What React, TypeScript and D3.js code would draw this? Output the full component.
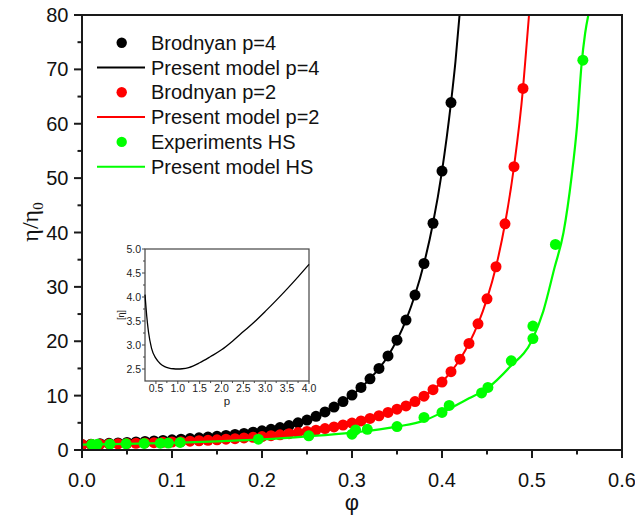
import React from "react";
import * as d3 from "d3";

// ---------- data ----------
const blackPhi = [0, 0.01, 0.02, 0.03, 0.04, 0.05, 0.06, 0.07, 0.08, 0.09, 0.1, 0.11, 0.12, 0.13, 0.14, 0.15, 0.16, 0.17, 0.18, 0.19, 0.2, 0.21, 0.22, 0.23, 0.24, 0.25, 0.26, 0.27, 0.28, 0.29, 0.3, 0.31, 0.32, 0.33, 0.34, 0.35, 0.36, 0.37, 0.38, 0.39, 0.4, 0.41];
const blackEta = [1.0, 1.07, 1.15, 1.23, 1.31, 1.39, 1.48, 1.57, 1.66, 1.76, 1.87, 1.98, 2.1, 2.23, 2.37, 2.52, 2.68, 2.86, 3.05, 3.27, 3.52, 3.8, 4.12, 4.5, 5.0, 5.5, 6.2, 7.0, 7.9, 8.9, 10.1, 11.5, 13.1, 15.0, 17.3, 20.2, 23.9, 28.5, 34.3, 41.7, 51.3, 63.9];

const redPhi = [0, 0.01, 0.02, 0.03, 0.04, 0.05, 0.06, 0.07, 0.08, 0.09, 0.1, 0.11, 0.12, 0.13, 0.14, 0.15, 0.16, 0.17, 0.18, 0.19, 0.2, 0.21, 0.22, 0.23, 0.24, 0.25, 0.26, 0.27, 0.28, 0.29, 0.3, 0.31, 0.32, 0.33, 0.34, 0.35, 0.36, 0.37, 0.38, 0.39, 0.4, 0.41, 0.42, 0.43, 0.44, 0.45, 0.46, 0.47, 0.48, 0.49];
const redEta = [1.0, 1.03, 1.07, 1.11, 1.15, 1.19, 1.24, 1.29, 1.35, 1.41, 1.47, 1.54, 1.62, 1.7, 1.79, 1.88, 1.98, 2.09, 2.21, 2.34, 2.48, 2.63, 2.8, 3.0, 3.2, 3.4, 3.65, 3.95, 4.25, 4.6, 4.95, 5.35, 5.8, 6.3, 6.9, 7.5, 8.1, 8.9, 9.9, 11.1, 12.5, 14.4, 16.7, 19.6, 23.2, 27.8, 33.7, 41.6, 52.1, 66.5];

const greenPhi = [0.011, 0.017, 0.031, 0.049, 0.069, 0.087, 0.096, 0.109, 0.196, 0.252, 0.3, 0.304, 0.317, 0.35, 0.38, 0.4, 0.408, 0.444, 0.451, 0.477, 0.501, 0.501, 0.526, 0.5565];
const greenEta = [1.03, 1.04, 1.08, 1.13, 1.2, 1.25, 1.28, 1.4, 2.0, 2.6, 2.9, 3.7, 3.8, 4.3, 6.0, 6.9, 8.2, 10.5, 11.5, 16.4, 20.5, 22.8, 37.8, 71.7];

const blackModelPhi = [0, 0.02, 0.04, 0.06, 0.08, 0.1, 0.12, 0.14, 0.16, 0.18, 0.2, 0.22, 0.24, 0.26, 0.28, 0.3, 0.32, 0.34, 0.36, 0.37, 0.38, 0.39, 0.4, 0.41, 0.415, 0.4195];
const blackModelEta = [1.0, 1.15, 1.31, 1.48, 1.66, 1.87, 2.1, 2.37, 2.68, 3.05, 3.52, 4.12, 5.0, 6.2, 7.9, 10.1, 13.1, 17.3, 23.9, 28.5, 34.3, 41.7, 51.3, 63.9, 71.5, 80];

const redModelPhi = [0, 0.02, 0.04, 0.06, 0.08, 0.1, 0.12, 0.14, 0.16, 0.18, 0.2, 0.22, 0.24, 0.26, 0.28, 0.3, 0.32, 0.34, 0.36, 0.38, 0.4, 0.41, 0.42, 0.43, 0.44, 0.45, 0.46, 0.47, 0.48, 0.49, 0.4935, 0.4967];
const redModelEta = [1.0, 1.07, 1.15, 1.24, 1.35, 1.47, 1.62, 1.79, 1.98, 2.21, 2.48, 2.8, 3.2, 3.65, 4.25, 4.95, 5.8, 6.9, 8.1, 9.9, 12.5, 14.4, 16.7, 19.6, 23.2, 27.8, 33.7, 41.6, 52.1, 66.5, 73.5, 80];

const greenModelPhi = [0, 0.05, 0.1, 0.15, 0.2, 0.25, 0.3, 0.35, 0.38, 0.4, 0.43, 0.45, 0.475, 0.5, 0.5125, 0.525, 0.535, 0.544, 0.55, 0.555, 0.559, 0.5626];
const greenModelEta = [1.0, 1.13, 1.32, 1.58, 1.95, 2.5, 3.2, 4.3, 5.4, 6.9, 9.5, 11.3, 15.2, 20.2, 25.5, 33.5, 40, 50.3, 59.5, 70.8, 76.6, 80];

const insetP = [0.25, 0.29, 0.33, 0.4, 0.5, 0.6, 0.7, 0.8, 0.9, 1.0, 1.1, 1.25, 1.5, 1.75, 2.0, 2.25, 2.5, 2.75, 3.0, 3.25, 3.5, 3.75, 4.0];
const insetEta = [4.05, 3.6, 3.27, 2.93, 2.72, 2.61, 2.55, 2.52, 2.505, 2.5, 2.505, 2.53, 2.63, 2.76, 2.9, 3.08, 3.28, 3.48, 3.7, 3.93, 4.17, 4.42, 4.68];

const xTicks = [0, 0.1, 0.2, 0.3, 0.4, 0.5, 0.6];
const xTickLabels = ["0.0", "0.1", "0.2", "0.3", "0.4", "0.5", "0.6"];
const xMinorTicks = [0.05, 0.15, 0.25, 0.35, 0.45, 0.55];
const yTicks = [0, 10, 20, 30, 40, 50, 60, 70, 80];
const yTickLabels = ["0", "10", "20", "30", "40", "50", "60", "70", "80"];
const yMinorTicks = [5, 15, 25, 35, 45, 55, 65, 75];

const insetXTicks = [0.5, 1.0, 1.5, 2.0, 2.5, 3.0, 3.5, 4.0];
const insetXTickLabels = ["0.5", "1.0", "1.5", "2.0", "2.5", "3.0", "3.5", "4.0"];
const insetXMinor = [0.75, 1.25, 1.75, 2.25, 2.75, 3.25, 3.75];
const insetYTicks = [2.5, 3.0, 3.5, 4.0, 4.5, 5.0];
const insetYTickLabels = ["2.5", "3.0", "3.5", "4.0", "4.5", "5.0"];
const insetYMinor = [2.75, 3.25, 3.75, 4.25, 4.75];

const legendLabels = ["Brodnyan p=4", "Present model p=4", "Brodnyan p=2", "Present model p=2", "Experiments HS", "Present model HS"];
const legendKinds = ["dot", "line", "dot", "line", "dot", "line"];
const legendColors = ["#000000", "#000000", "#ff0000", "#ff0000", "#00ff00", "#00ff00"];

// ---------- layout ----------
const W = 635, H = 516;
const PX0 = 82, PX1 = 622, PY0 = 15, PY1 = 450;
const SANS = "'Liberation Sans', Arial, Helvetica, sans-serif";
const SERIF = "'Liberation Serif', 'Times New Roman', serif";

export default function App() {
  const x = d3.scaleLinear().domain([0, 0.6]).range([PX0, PX1]);
  const y = d3.scaleLinear().domain([0, 80]).range([PY1, PY0]);

  const line = d3
    .line<[number, number]>()
    .x((d) => x(d[0]))
    .y((d) => y(d[1]))
    .curve(d3.curveMonotoneX);

  const zip = (a: number[], b: number[]) => a.map((v, i) => [v, b[i]] as [number, number]);

  // inset scales
  const ix = d3.scaleLinear().domain([0.25, 4.0]).range([145, 309]);
  const iy = d3.scaleLinear().domain([2.25, 5.0]).range([381, 249]);
  const iline = d3
    .line<[number, number]>()
    .x((d) => ix(d[0]))
    .y((d) => iy(d[1]))
    .curve(d3.curveMonotoneX);

  const R = 5.5;
  const axisColor = "#1a1a1a";

  return (
    <svg
      width={W}
      height={H}
      style={{ position: "absolute", left: 0, top: 0, background: "#fff" }}
      xmlns="http://www.w3.org/2000/svg"
    >
      <defs>
        <clipPath id="plotClip">
          <rect x={PX0} y={PY0} width={PX1 - PX0} height={PY1 - PY0} />
        </clipPath>
      </defs>
      <rect x={0} y={0} width={W} height={H} fill="#fff" />

      <g clipPath="url(#plotClip)">
        {/* black */}
        {blackPhi.map((p, i) => (
          <circle key={"b" + i} cx={x(p)} cy={y(blackEta[i])} r={R} fill="#000" />
        ))}
        <path d={line(zip(blackModelPhi, blackModelEta)) || ""} fill="none" stroke="#000" strokeWidth={2} />
        {/* red */}
        {redPhi.map((p, i) => (
          <circle key={"r" + i} cx={x(p)} cy={y(redEta[i])} r={R} fill="#ff0000" />
        ))}
        <path d={line(zip(redModelPhi, redModelEta)) || ""} fill="none" stroke="#ff0000" strokeWidth={2} />
        {/* green */}
        {greenPhi.map((p, i) => (
          <circle key={"g" + i} cx={x(p)} cy={y(greenEta[i])} r={R} fill="#00ff00" />
        ))}
        <path d={line(zip(greenModelPhi, greenModelEta)) || ""} fill="none" stroke="#00ff00" strokeWidth={2.2} />
      </g>

      {/* frame */}
      <rect x={PX0} y={PY0} width={PX1 - PX0} height={PY1 - PY0} fill="none" stroke={axisColor} strokeWidth={2} />

      {/* x ticks */}
      {xTicks.map((t, i) => (
        <g key={"xt" + i}>
          <line x1={x(t)} x2={x(t)} y1={PY1} y2={PY1 + 8} stroke={axisColor} strokeWidth={2} />
          <text x={x(t)} y={487} textAnchor="middle" fontFamily={SANS} fontSize={20} fill="#111">
            {xTickLabels[i]}
          </text>
        </g>
      ))}
      {xMinorTicks.map((t, i) => (
        <line key={"xm" + i} x1={x(t)} x2={x(t)} y1={PY1} y2={PY1 + 4.5} stroke={axisColor} strokeWidth={2} />
      ))}
      {/* y ticks */}
      {yTicks.map((t, i) => (
        <g key={"yt" + i}>
          <line x1={PX0 - 8} x2={PX0} y1={y(t)} y2={y(t)} stroke={axisColor} strokeWidth={2} />
          <text x={68.5} y={y(t) + 7} textAnchor="end" fontFamily={SANS} fontSize={20} fill="#111">
            {yTickLabels[i]}
          </text>
        </g>
      ))}
      {yMinorTicks.map((t, i) => (
        <line key={"ym" + i} x1={PX0 - 4.5} x2={PX0} y1={y(t)} y2={y(t)} stroke={axisColor} strokeWidth={2} />
      ))}

      {/* axis titles */}
      <text x={352} y={510} textAnchor="middle" fontFamily={SANS} fontSize={22} fill="#111">
        φ
      </text>
      <text
        transform="translate(38,222) rotate(-90)"
        textAnchor="middle"
        fontFamily={SERIF}
        fontSize={24}
        fill="#111"
      >
        η/η
        <tspan fontSize={15} dy={5}>0</tspan>
      </text>

      {/* legend */}
      {legendLabels.map((lab, i) => {
        const cy = 42.7 + i * 24.8;
        return (
          <g key={"lg" + i}>
            {legendKinds[i] === "dot" ? (
              <circle cx={121.7} cy={cy} r={5.2} fill={legendColors[i]} />
            ) : (
              <line x1={97} x2={145} y1={cy} y2={cy} stroke={legendColors[i]} strokeWidth={2} />
            )}
            <text x={151} y={cy + 7} fontFamily={SANS} fontSize={20} fill="#111">
              {lab}
            </text>
          </g>
        );
      })}

      {/* inset */}
      <g>
        <rect x={145} y={249} width={164} height={132} fill="#fff" stroke="#444" strokeWidth={1.2} />
        <path d={iline(zip(insetP, insetEta)) || ""} fill="none" stroke="#000" strokeWidth={1.3} />
        {insetXTicks.map((t, i) => (
          <g key={"ixt" + i}>
            <line x1={ix(t)} x2={ix(t)} y1={381} y2={384} stroke="#444" strokeWidth={1} />
            <text x={ix(t)} y={392} textAnchor="middle" fontFamily={SANS} fontSize={10.5} fill="#222">
              {insetXTickLabels[i]}
            </text>
          </g>
        ))}
        {insetXMinor.map((t, i) => (
          <line key={"ixm" + i} x1={ix(t)} x2={ix(t)} y1={381} y2={383} stroke="#444" strokeWidth={1} />
        ))}
        {insetYTicks.map((t, i) => (
          <g key={"iyt" + i}>
            <line x1={142} x2={145} y1={iy(t)} y2={iy(t)} stroke="#444" strokeWidth={1} />
            <text x={141} y={iy(t) + 3.7} textAnchor="end" fontFamily={SANS} fontSize={10.5} fill="#222">
              {insetYTickLabels[i]}
            </text>
          </g>
        ))}
        {insetYMinor.map((t, i) => (
          <line key={"iym" + i} x1={143} x2={145} y1={iy(t)} y2={iy(t)} stroke="#444" strokeWidth={1} />
        ))}
        <text x={227} y={405} textAnchor="middle" fontFamily={SANS} fontSize={11.5} fill="#222">
          p
        </text>
        <text
          transform="translate(124,315) rotate(-90)"
          textAnchor="middle"
          fontFamily={SANS}
          fontSize={9}
          fill="#222"
        >
          [η]
        </text>
      </g>
    </svg>
  );
}
